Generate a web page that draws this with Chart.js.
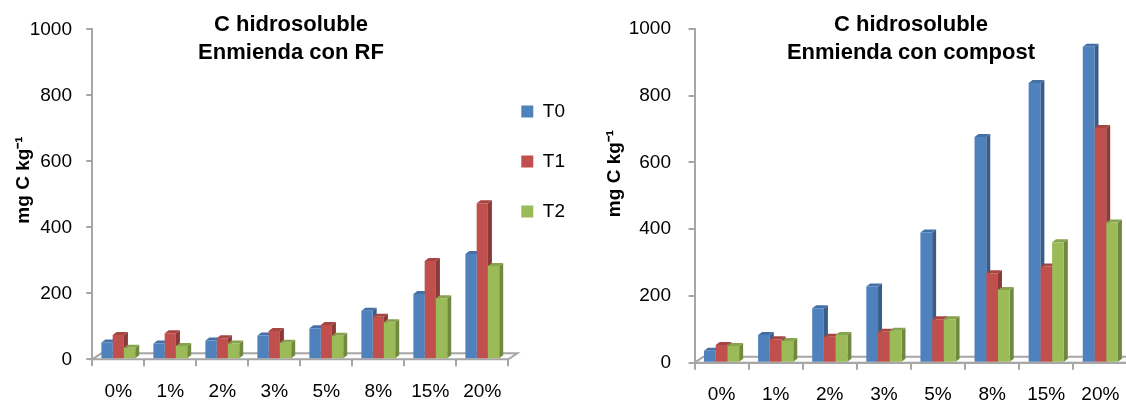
<!DOCTYPE html>
<html>
<head>
<meta charset="utf-8">
<script src="https://cdn.jsdelivr.net/npm/chart.js@4.4.1/dist/chart.umd.min.js"></script>
<style>
  html, body { margin: 0; padding: 0; background: #fff; overflow: hidden; width: 1126px; height: 400px; }
  .panel { position: absolute; top: 0; height: 400px; }
  #panelRF { left: 0; width: 580px; }
  #panelCompost { left: 563px; width: 580px; }
</style>
</head>
<body>
<div class="panel" id="panelRF"><canvas id="chartRF"></canvas></div>
<div class="panel" id="panelCompost"><canvas id="chartCompost"></canvas></div>
<script>
// Water-soluble carbon (mg C kg-1) by amendment dose and sampling time
const categories = ['0%', '1%', '2%', '3%', '5%', '8%', '15%', '20%'];
const seriesNames = ['T0', 'T1', 'T2'];
const yTicks = [0, 200, 400, 600, 800, 1000];

const rfT0 = [51, 48, 57, 72, 94, 147, 198, 319];
const rfT1 = [74, 79, 64, 86, 104, 129, 298, 473];
const rfT2 = [35, 40, 48, 50, 71, 112, 185, 283];

const compostT0 = [36, 83, 163, 228, 390, 676, 838, 947];
const compostT1 = [53, 70, 78, 93, 130, 268, 288, 703];
const compostT2 = [50, 65, 83, 96, 130, 218, 361, 420];

// Styling for the three series: front, side and top faces of the columns
const frontColors = ['#4F81BD', '#C0504D', '#9BBB59'];
const sideColors  = ['#385D8A', '#8C3A38', '#71893F'];
const topColors   = ['#4470A8', '#A64542', '#87A34B'];

const textFont = "'Liberation Sans', Arial, sans-serif";
const axisGray = '#A6A6A6';

Chart.defaults.font.family = textFont;
Chart.defaults.color = '#000';

// Column depth and floor depth of the pseudo-3D look
const colDepth = { dx: 4, dy: 3 };
const floorDepth = { dx: 9, dy: 6 };

const columns3d = {
  id: 'columns3d',
  beforeDatasetsDraw(chart) {
    const ctx = chart.ctx;
    const area = chart.chartArea;
    const base = chart.scales.y.getPixelForValue(0);
    ctx.save();
    // floor slab under the columns
    ctx.beginPath();
    ctx.moveTo(area.left, base);
    ctx.lineTo(area.left + floorDepth.dx, base - floorDepth.dy);
    ctx.lineTo(area.right + floorDepth.dx, base - floorDepth.dy);
    ctx.lineTo(area.right, base);
    ctx.closePath();
    ctx.fillStyle = '#FBFBFB';
    ctx.fill();
    ctx.strokeStyle = axisGray;
    ctx.lineWidth = 2;
    ctx.stroke();
    // side and top faces; the front faces are drawn by the bar controller on top
    chart.data.datasets.forEach((ds, i) => {
      const meta = chart.getDatasetMeta(i);
      if (meta.hidden) return;
      meta.data.forEach(bar => {
        const p = bar.getProps(['x', 'y', 'base', 'width'], true);
        const l = p.x - p.width / 2, r = p.x + p.width / 2;
        ctx.fillStyle = sideColors[i];
        ctx.beginPath();
        ctx.moveTo(r, p.y);
        ctx.lineTo(r + colDepth.dx, p.y - colDepth.dy);
        ctx.lineTo(r + colDepth.dx, p.base - colDepth.dy);
        ctx.lineTo(r, p.base);
        ctx.closePath();
        ctx.fill();
        ctx.fillStyle = topColors[i];
        ctx.beginPath();
        ctx.moveTo(l, p.y);
        ctx.lineTo(l + colDepth.dx, p.y - colDepth.dy);
        ctx.lineTo(r + colDepth.dx, p.y - colDepth.dy);
        ctx.lineTo(r, p.y);
        ctx.closePath();
        ctx.fill();
      });
    });
    ctx.restore();
  }
};

function buildChart(canvasId, titleLines, values, frame) {
  const datasets = values.map((v, i) => ({
    label: seriesNames[i],
    data: v,
    backgroundColor: frontColors[i],
    borderWidth: 0,
    barPercentage: 1.0,
    categoryPercentage: 0.65
  }));

  return new Chart(document.getElementById(canvasId), {
    type: 'bar',
    data: { labels: categories, datasets },
    plugins: [columns3d],
    options: {
      responsive: true,
      maintainAspectRatio: false,
      animation: false,
      devicePixelRatio: 1,
      layout: { padding: frame.padding },
      plugins: {
        title: {
          display: true,
          fullSize: frame.titleFullSize,
          text: titleLines,
          color: '#000',
          font: { weight: 'bold', size: 22, lineHeight: '28px' },
          padding: frame.titlePadding
        },
        subtitle: {
          display: true,
          position: 'left',
          text: 'mg C kg⁻¹',
          color: '#000',
          font: { weight: 'bold', size: 19, lineHeight: '24px' },
          padding: frame.yTitlePadding
        },
        legend: {
          display: frame.legend,
          position: 'right',
          align: 'start',
          fullSize: false,
          maxWidth: 57,
          title: { display: true, text: ' ', font: { size: 1 }, padding: { top: 0, bottom: 58.5 } },
          labels: {
            boxWidth: 12,
            boxHeight: 12,
            padding: 13,
            color: '#000',
            font: { size: 19, lineHeight: 37 / 19 },
            generateLabels(chart) {
              return Chart.defaults.plugins.legend.labels.generateLabels(chart)
                .map(item => Object.assign(item, { text: [item.text], lineWidth: 0 }));
            }
          }
        },
        tooltip: { enabled: false }
      },
      scales: {
        x: {
          grid: { display: true, drawOnChartArea: false, offset: true, tickLength: 7, color: axisGray, lineWidth: 2 },
          border: { display: true, color: axisGray, width: 2 },
          ticks: { font: { size: 19 }, color: '#000', padding: 14, maxRotation: 0, autoSkip: false },
          afterFit(scale) { scale.height = frame.xAxisHeight; }
        },
        y: {
          min: yTicks[0],
          max: yTicks[yTicks.length - 1],
          afterBuildTicks(scale) { scale.ticks = yTicks.map(v => ({ value: v })); },
          grid: { display: true, drawOnChartArea: false, tickLength: 6, color: axisGray, lineWidth: 2 },
          border: { display: true, color: axisGray, width: 2 },
          ticks: { font: { size: 19 }, color: '#000', padding: frame.yTickPadding, callback: v => String(v) },
          afterFit(scale) { scale.width = frame.yAxisWidth; }
        }
      }
    }
  });
}

buildChart('chartRF', ['C hidrosoluble', 'Enmienda con RF'], [rfT0, rfT1, rfT2], {
  padding: { left: 16.7, right: 14.7, top: -40, bottom: 0 },
  titleFullSize: true,
  titlePadding: { top: 51, bottom: -37.7 },
  yTitlePadding: { top: -4.7, bottom: -19.3 },
  yAxisWidth: 75.6,
  yTickPadding: 14.3,
  xAxisHeight: 40.7,
  legend: true
});

buildChart('chartCompost', ['C hidrosoluble', 'Enmienda con compost'], [compostT0, compostT1, compostT2], {
  padding: { left: 40, right: 15.6, top: -53, bottom: 0 },
  titleFullSize: false,
  titlePadding: { top: 64, bottom: -38 },
  yTitlePadding: { top: 0, bottom: -24 },
  yAxisWidth: 91.5,
  yTickPadding: 17.5,
  xAxisHeight: 37.3,
  legend: false
});
</script>
</body>
</html>
